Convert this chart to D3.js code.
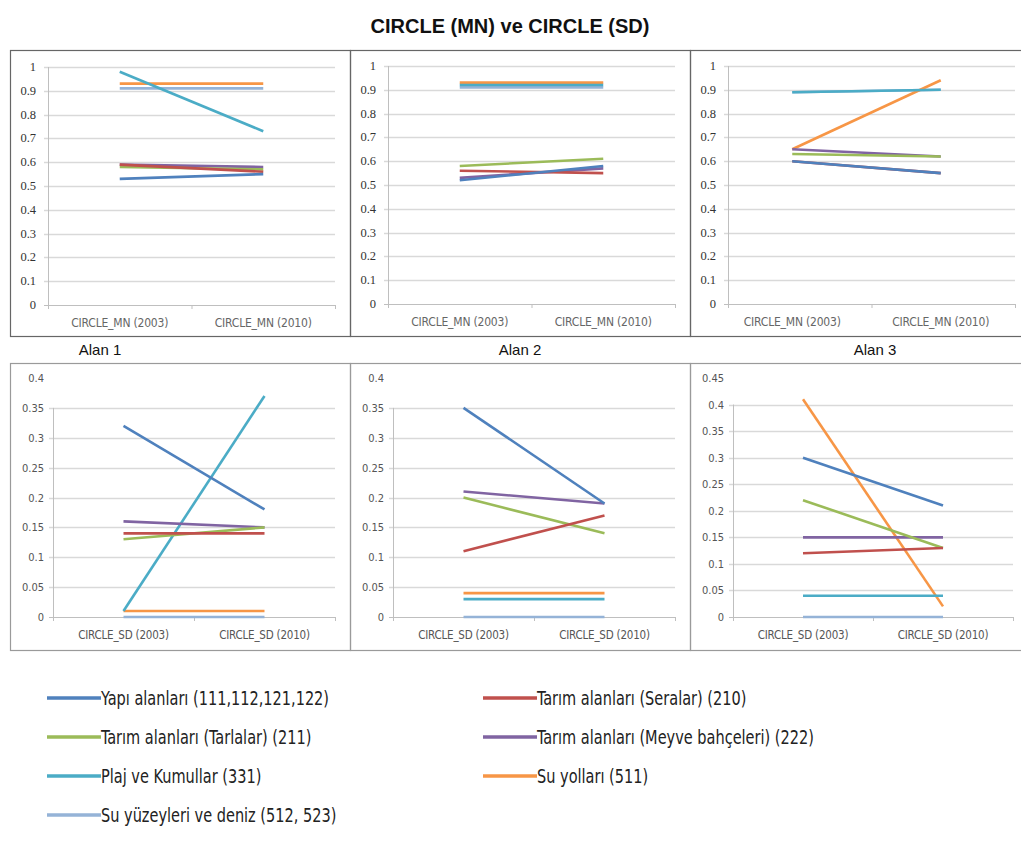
<!DOCTYPE html>
<html>
<head>
<meta charset="utf-8">
<script src="https://cdn.jsdelivr.net/npm/d3@7"></script>
<style>
  body { margin: 0; background: #fff; }
  svg { display: block; }
</style>
</head>
<body>
<div id="chart"></div>
<script>
// categories
const catsMN = ["CIRCLE_MN (2003)", "CIRCLE_MN (2010)"];
const catsSD = ["CIRCLE_SD (2003)", "CIRCLE_SD (2010)"];

// series, same order everywhere
const seriesNames = [
    "Yapı alanları (111,112,121,122)",
    "Tarım alanları (Seralar) (210)",
    "Tarım alanları (Tarlalar) (211)",
    "Tarım alanları (Meyve bahçeleri) (222)",
    "Plaj ve Kumullar (331)",
    "Su yolları (511)",
    "Su yüzeyleri ve deniz (512, 523)"
];
const seriesColors = ["#4F81BD", "#C0504D", "#9BBB59", "#8064A2", "#4BACC6", "#F79646", "#95B3D7"];

// values [2003, 2010] per series
const alan1MN = [[0.53, 0.55], [0.59, 0.56], [0.58, 0.57], [0.59, 0.58], [0.98, 0.73], [0.93, 0.93], [0.91, 0.91]];
const alan2MN = [[0.52, 0.58], [0.56, 0.55], [0.58, 0.61], [0.53, 0.57], [0.92, 0.92], [0.93, 0.93], [0.91, 0.91]];
const alan3MN = [[0.60, 0.55], [0.60, 0.55], [0.63, 0.62], [0.65, 0.62], [0.89, 0.90], [0.65, 0.94], [0.89, 0.90]];

const alan1SD = [[0.32, 0.18], [0.14, 0.14], [0.13, 0.15], [0.16, 0.15], [0.01, 0.37], [0.01, 0.01], [0, 0]];
const alan2SD = [[0.35, 0.19], [0.11, 0.17], [0.20, 0.14], [0.21, 0.19], [0.03, 0.03], [0.04, 0.04], [0, 0]];
const alan3SD = [[0.30, 0.21], [0.12, 0.13], [0.22, 0.13], [0.15, 0.15], [0.04, 0.04], [0.41, 0.02], [0, 0]];

const panelTitles = ["Alan 1", "Alan 2", "Alan 3"];

const W = 1021, H = 862;

const svg = d3.select('#chart').append('svg')
    .attr('width', W)
    .attr('height', H);

svg.append('text')
    .attr('x', 510).attr('y', 33)
    .attr('text-anchor', 'middle')
    .style('font-family', 'Arial, "Liberation Sans", sans-serif')
    .style('font-weight', 'bold')
    .style('font-size', '20px')
    .style('fill', '#111')
    .text('CIRCLE (MN) ve CIRCLE (SD)');

// panel layout
const panels = [
    { data: alan1MN, cats: catsMN, box: [10, 50, 340, 286], plot: [48, 335, 305, 67], yMax: 1, step: 0.1, top: true },
    { data: alan2MN, cats: catsMN, box: [350, 50, 340, 286], plot: [388, 675, 304, 66], yMax: 1, step: 0.1, top: true },
    { data: alan3MN, cats: catsMN, box: [690, 50, 340, 286], plot: [718, 1015, 304, 66], yMax: 1, step: 0.1, top: true, axisX: 728 },
    { data: alan1SD, cats: catsSD, box: [10, 363, 340, 287], plot: [53, 335, 617, 378], yMax: 0.4, step: 0.05, top: false },
    { data: alan2SD, cats: catsSD, box: [350, 363, 340, 287], plot: [393, 675, 617, 378], yMax: 0.4, step: 0.05, top: false },
    { data: alan3SD, cats: catsSD, box: [690, 363, 340, 287], plot: [733, 1013, 617, 378], yMax: 0.45, step: 0.05, top: false }
];

panels.forEach(function(p) {
    const g = svg.append('g');
    let [left, right, bottom, topY] = p.plot;
    const ax = p.axisX || left;

    g.append('rect')
        .attr('x', p.box[0] + 0.5).attr('y', p.box[1] + 0.5)
        .attr('width', p.box[2]).attr('height', p.box[3])
        .attr('fill', 'none')
        .attr('stroke', p.top ? '#666' : '#9a9a9a')
        .attr('stroke-width', 1.2);

    const y = d3.scaleLinear().domain([0, p.yMax]).range([bottom, topY]);
    const x = d3.scalePoint().domain(p.cats).range([left, right]).padding(0.5);

    const ticks = d3.range(0, p.yMax + p.step / 2, p.step).map(v => +v.toFixed(2));
    const gridTicks = p.top ? ticks.slice(1) : ticks.slice(1, -1);

    g.selectAll('.grid')
        .data(gridTicks)
        .enter().append('line')
        .attr('x1', ax - 4).attr('x2', right)
        .attr('y1', d => Math.round(y(d)) + 0.5)
        .attr('y2', d => Math.round(y(d)) + 0.5)
        .attr('stroke', '#d9d9d9')
        .attr('stroke-width', 1.3);

    // axes
    const axisTop = p.top ? y(p.yMax) : y(p.yMax - p.step);
    g.append('line')
        .attr('x1', ax + 0.5).attr('x2', ax + 0.5)
        .attr('y1', axisTop).attr('y2', bottom + 4)
        .attr('stroke', '#bfbfbf');
    g.append('line')
        .attr('x1', ax - 4).attr('x2', right)
        .attr('y1', bottom + 0.5).attr('y2', bottom + 0.5)
        .attr('stroke', '#bfbfbf');
    [ax, (ax + right) / 2, right].forEach(tx => {
        g.append('line')
            .attr('x1', tx + 0.5).attr('x2', tx + 0.5)
            .attr('y1', bottom).attr('y2', bottom + 4)
            .attr('stroke', '#bfbfbf');
    });

    g.selectAll('.ylab')
        .data(ticks)
        .enter().append('text')
        .attr('x', ax - (p.top ? 12 : 9))
        .attr('y', d => y(d) + 4)
        .attr('text-anchor', 'end')
        .style('font-family', p.top ? '"Liberation Serif", serif' : '"DejaVu Sans Condensed", sans-serif')
        .style('font-size', p.top ? '12.5px' : '11px')
        .style('fill', p.top ? '#333' : '#555')
        .text(d => d3.format('~g')(d));

    g.selectAll('.xlab')
        .data(p.cats)
        .enter().append('text')
        .attr('x', d => x(d))
        .attr('y', bottom + 22)
        .attr('text-anchor', 'middle')
        .style('font-family', '"DejaVu Sans Condensed", sans-serif')
        .style('font-size', p.top ? '12px' : '11.5px')
        .style('letter-spacing', '-0.2px')
        .style('fill', p.top ? '#666' : '#555')
        .text(d => d);

    const line = d3.line()
        .x((d, i) => x(p.cats[i]))
        .y(d => y(d));

    // draw light ones first so the main series sit on top
    const order = [6, 5, 4, 3, 2, 1, 0];
    order.forEach(si => {
        g.append('path')
            .datum(p.data[si])
            .attr('d', line)
            .attr('fill', 'none')
            .attr('stroke', seriesColors[si])
            .attr('stroke-width', 2.6);
    });
});

// Alan labels
[100, 520, 875].forEach((cx, i) => {
    svg.append('text')
        .attr('x', cx).attr('y', 355)
        .attr('text-anchor', 'middle')
        .style('font-family', 'Arial, "Liberation Sans", sans-serif')
        .style('font-size', '15px')
        .style('fill', '#111')
        .text(panelTitles[i]);
});

// legend
const legend = svg.append('g');
const legX = [47, 483], legY = [698, 737, 776, 815];
seriesNames.forEach((name, i) => {
    const lx = legX[i % 2], ly = legY[Math.floor(i / 2)];
    legend.append('line')
        .attr('x1', lx).attr('x2', lx + 54)
        .attr('y1', ly).attr('y2', ly)
        .attr('stroke', seriesColors[i])
        .attr('stroke-width', 3.5);
    legend.append('text')
        .attr('transform', 'translate(' + (lx + 54) + ',' + (ly + 7) + ') scale(0.85,1)')
        .style('font-family', '"DejaVu Sans Condensed", sans-serif')
        .style('font-size', '19px')
        .style('fill', '#222')
        .text(name);
});
</script>
</body>
</html>
